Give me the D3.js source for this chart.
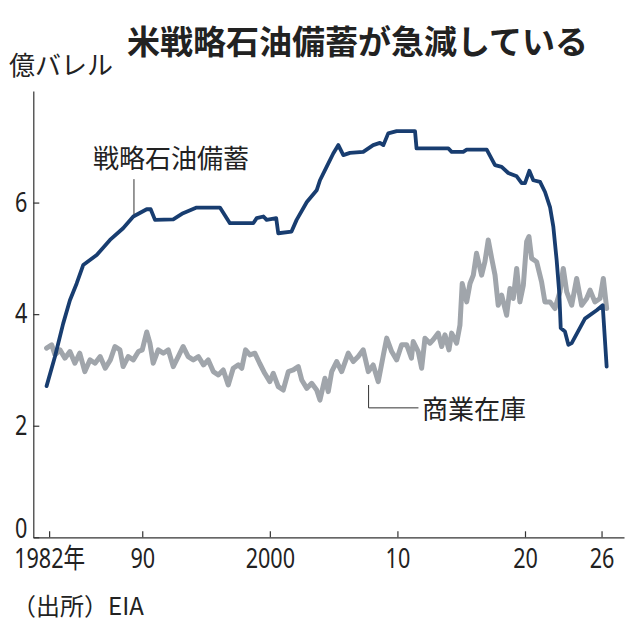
<!DOCTYPE html>
<html>
<head>
<meta charset="utf-8">
<script src="https://cdn.jsdelivr.net/npm/d3@7"></script>
<style>
  body { margin: 0; background: #fff; }
  svg { display: block; }
</style>
</head>
<body>
<div id="chart-area"></div>
<script>
// 戦略石油備蓄 (億バレル)
var sprYears = [1982.5, 1983.16, 1983.8, 1984.33, 1984.86, 1985.37, 1986.43, 1987.47, 1988.5, 1989.3,
  1990.35, 1990.66, 1991.0, 1992.43, 1993.2, 1994.26, 1996.09, 1996.87, 1998.7, 1998.97,
  1999.5, 1999.75, 2000.5, 2000.66, 2001.7, 2002.1, 2002.9, 2003.67, 2003.93, 2004.45,
  2004.97, 2005.37, 2005.76, 2006.28, 2007.32, 2008.1, 2008.63, 2008.9, 2009.28, 2009.94,
  2011.38, 2011.5, 2013.99, 2014.25, 2015.16, 2015.43, 2017.0, 2017.65, 2018.17, 2018.69,
  2019.35, 2019.74, 2020.0, 2020.34, 2020.65, 2021.18, 2021.57, 2021.96, 2022.22, 2022.48,
  2022.69, 2022.8, 2023.13, 2023.4, 2023.66, 2024.7, 2025.62, 2026.09, 2026.4];
var sprValues = [2.71, 3.24, 3.83, 4.25, 4.55, 4.88, 5.06, 5.33, 5.54, 5.75,
  5.88, 5.88, 5.69, 5.70, 5.81, 5.91, 5.91, 5.63, 5.63, 5.72,
  5.75, 5.69, 5.72, 5.45, 5.48, 5.69, 6.01, 6.22, 6.40, 6.64,
  6.88, 7.03, 6.85, 6.89, 6.91, 7.03, 7.07, 7.03, 7.24, 7.28,
  7.28, 6.97, 6.97, 6.91, 6.91, 6.95, 6.95, 6.67, 6.64, 6.53,
  6.47, 6.35, 6.35, 6.57, 6.40, 6.37, 6.19, 5.92, 5.57, 4.97,
  4.37, 3.75, 3.69, 3.45, 3.48, 3.92, 4.07, 4.16, 3.06];

// 商業在庫 (億バレル)
var comYears = [1982.5, 1982.9, 1983.16, 1983.55, 1983.94, 1984.33, 1984.72, 1985.1, 1985.5, 1985.9,
  1986.3, 1986.7, 1987.1, 1987.5, 1987.86, 1988.25, 1988.5, 1988.9, 1989.3, 1989.7,
  1990.0, 1990.35, 1990.6, 1990.86, 1991.25, 1991.65, 1992.04, 1992.43, 1992.82, 1993.2,
  1993.6, 1994.0, 1994.4, 1994.8, 1995.17, 1995.57, 1995.96, 1996.35, 1996.74, 1997.13,
  1997.53, 1997.8, 1998.1, 1998.44, 1998.83, 1999.2, 1999.6, 2000.0, 2000.27, 2000.66,
  2001.05, 2001.45, 2001.84, 2002.23, 2002.5, 2002.9, 2003.28, 2003.67, 2003.93, 2004.32,
  2004.58, 2004.85, 2005.24, 2005.63, 2006.15, 2006.54, 2006.93, 2007.32, 2007.72, 2008.1,
  2008.5, 2008.9, 2009.16, 2009.55, 2009.94, 2010.33, 2010.73, 2011.1, 2011.24, 2011.63,
  2011.9, 2012.16, 2012.55, 2012.8, 2013.2, 2013.47, 2013.73, 2014.04, 2014.25, 2014.64,
  2014.9, 2015.08, 2015.43, 2015.69, 2015.95, 2016.2, 2016.6, 2016.86, 2017.12, 2017.39,
  2017.65, 2017.9, 2018.17, 2018.56, 2018.82, 2019.08, 2019.35, 2019.6, 2019.87, 2020.13,
  2020.31, 2020.52, 2020.91, 2021.3, 2021.56, 2021.96, 2022.35, 2022.74, 2023.0, 2023.27,
  2023.66, 2024.05, 2024.44, 2024.83, 2025.1, 2025.48, 2025.88, 2026.14, 2026.4];
var comValues = [3.39, 3.45, 3.27, 3.36, 3.21, 3.33, 3.12, 3.30, 2.97, 3.18,
  3.12, 3.24, 3.03, 3.18, 3.42, 3.36, 3.06, 3.24, 3.18, 3.33,
  3.36, 3.68, 3.48, 3.12, 3.36, 3.30, 3.36, 3.06, 3.24, 3.42,
  3.24, 3.18, 3.24, 3.09, 3.18, 2.97, 2.91, 3.00, 2.73, 3.03,
  3.09, 3.03, 3.36, 3.27, 3.30, 3.12, 2.94, 2.79, 2.94, 2.70,
  2.64, 2.97, 3.00, 3.06, 2.82, 2.67, 2.76, 2.64, 2.46, 2.85,
  2.61, 2.97, 3.15, 2.97, 3.30, 3.15, 3.24, 3.36, 2.97, 3.09,
  2.79, 3.27, 3.57, 3.33, 3.18, 3.45, 3.45, 3.21, 3.51, 3.33,
  3.03, 3.57, 3.48, 3.54, 3.66, 3.42, 3.63, 3.36, 3.66, 3.48,
  3.80, 4.55, 4.22, 4.55, 4.70, 5.09, 4.70, 4.94, 5.33, 5.00,
  4.70, 4.16, 4.34, 3.98, 4.46, 4.28, 4.82, 4.22, 4.52, 5.30,
  5.39, 5.00, 4.94, 4.58, 4.22, 4.22, 4.10, 4.40, 4.82, 4.40,
  4.16, 4.64, 4.16, 4.28, 4.43, 4.22, 4.28, 4.64, 4.10];

var xTickYears = [1982.7, 1990, 2000, 2010, 2020, 2026];
var xTickLabels = ["1982年", "90", "2000", "10", "20", "26"];
var yTicks = [0, 2, 4, 6];

var width = 638, height = 631;
var numFont = "'Noto Sans', 'Noto Sans CJK JP', sans-serif";
var jpFont = "'Noto Sans CJK JP', sans-serif";
var squeeze = 0.8;   // tick labels are set in a condensed face

var svg = d3.select("#chart-area")
  .append("svg")
    .attr("width", width)
    .attr("height", height);

var x = d3.scaleLinear()
  .domain([1981.46, 2027.76])
  .range([33.3, 624]);

var y = d3.scaleLinear()
  .domain([0, 8])
  .range([537.3, 91]);

// Title
svg.append("text")
  .attr("x", 127)
  .attr("y", 54)
  .attr("font-family", jpFont)
  .attr("font-weight", "bold")
  .attr("font-size", "33px")
  .attr("fill", "#222")
  .text("米戦略石油備蓄が急減している");

// Unit label
svg.append("text")
  .attr("x", 9)
  .attr("y", 75)
  .attr("font-family", jpFont)
  .attr("font-size", "26px")
  .attr("fill", "#222")
  .text("億バレル");

// X Axis
var xAxisCall = d3.axisBottom(x)
  .tickValues(xTickYears)
  .tickFormat(function(d, i) { return xTickLabels[i]; })
  .tickSizeInner(-6)
  .tickSizeOuter(0)
  .tickPadding(12);
var xAxis = svg.append("g")
  .attr("transform", "translate(0," + y(0) + ")")
  .call(xAxisCall);

// Y Axis
var yAxisCall = d3.axisLeft(y)
  .tickValues(yTicks)
  .tickSizeInner(-6)
  .tickSizeOuter(0)
  .tickPadding(6);
var yAxis = svg.append("g")
  .attr("transform", "translate(" + x.range()[0] + ",0)")
  .call(yAxisCall);

[xAxis, yAxis].forEach(function(a) {
  a.attr("font-family", numFont).attr("font-size", "27px");
  a.selectAll("path, line").attr("stroke", "#333").attr("stroke-width", 1.2);
  a.selectAll("text").attr("fill", "#222");
});
xAxis.selectAll("text").attr("transform", "scale(" + squeeze + ",1)");
yAxis.selectAll("text")
  .attr("x", -6 / squeeze)
  .attr("transform", "scale(" + squeeze + ",1)");
// the zero label sits a little above the baseline
yAxis.selectAll(".tick text")
  .filter(function(d) { return d === 0; })
  .attr("y", -8);

// Lines
var line = d3.line()
  .x(function(d) { return x(d[0]); })
  .y(function(d) { return y(d[1]); });

svg.append("path")
  .datum(d3.zip(comYears, comValues))
  .attr("fill", "none")
  .attr("stroke", "#a0a5ab")
  .attr("stroke-width", 5)
  .attr("stroke-linejoin", "round")
  .attr("stroke-linecap", "round")
  .attr("d", line);

svg.append("path")
  .datum(d3.zip(sprYears, sprValues))
  .attr("fill", "none")
  .attr("stroke", "#183d70")
  .attr("stroke-width", 3.8)
  .attr("stroke-linejoin", "round")
  .attr("stroke-linecap", "round")
  .attr("d", line);

// Series labels with leader lines
svg.append("line")
  .attr("x1", x(1989.35)).attr("x2", x(1989.35))
  .attr("y1", y(6.42)).attr("y2", y(5.79))
  .attr("stroke", "#333").attr("stroke-width", 1);
svg.append("text")
  .attr("x", 93)
  .attr("y", 168)
  .attr("font-family", jpFont)
  .attr("font-size", "26px")
  .attr("fill", "#222")
  .text("戦略石油備蓄");

svg.append("path")
  .attr("d", "M" + x(2007.74) + "," + y(2.73) + "V" + y(2.32) + "H" + x(2011.65))
  .attr("fill", "none")
  .attr("stroke", "#333").attr("stroke-width", 1);
svg.append("text")
  .attr("x", 422)
  .attr("y", 419)
  .attr("font-family", jpFont)
  .attr("font-size", "26px")
  .attr("fill", "#222")
  .text("商業在庫");

// Source
svg.append("text")
  .attr("x", 12)
  .attr("y", 615)
  .attr("font-family", jpFont)
  .attr("font-size", "24px")
  .attr("fill", "#222")
  .text("（出所）EIA");
</script>
</body>
</html>
